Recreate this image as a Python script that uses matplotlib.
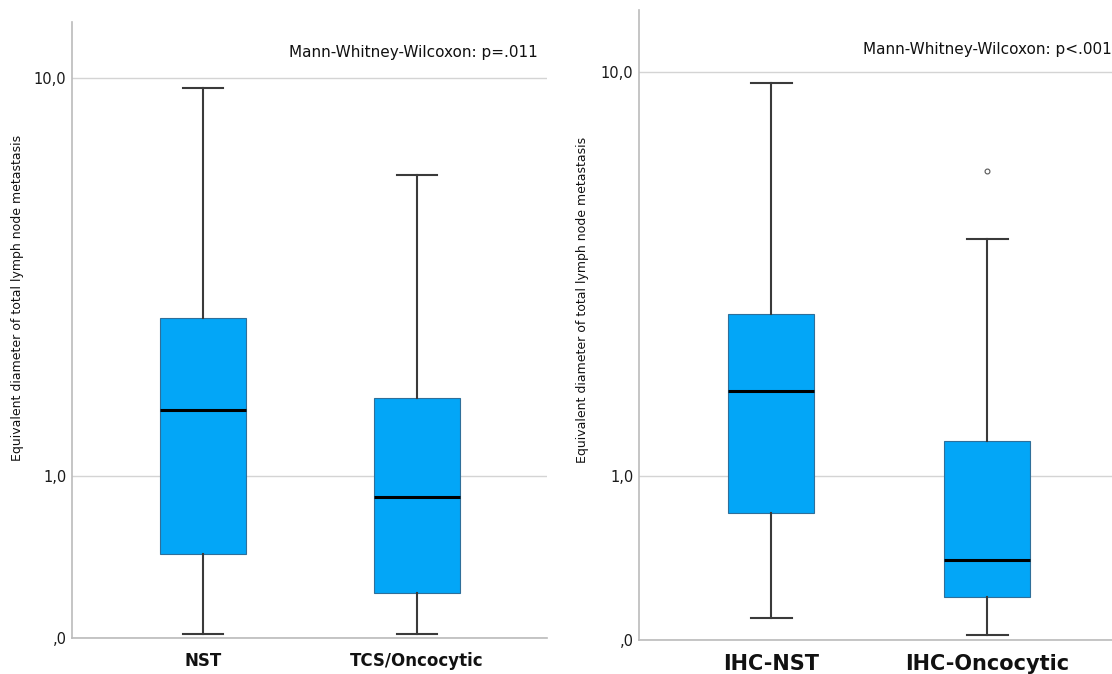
import matplotlib
matplotlib.use("Agg")
import matplotlib.pyplot as plt
import numpy as np

# values (SPSS "safe log" axis: log10(1 + x))
left_groups = ["NST", "TCS/Oncocytic"]
left_whislo = [0.017, 0.017]
left_q1 = [0.43, 0.21]
left_med = [1.65, 0.83]
left_q3 = [2.93, 1.79]
left_whishi = [9.53, 6.25]
left_fliers = [[], []]

right_groups = ["IHC-NST", "IHC-Oncocytic"]
right_whislo = [0.097, 0.021]
right_q1 = [0.71, 0.20]
right_med = [1.86, 0.40]
right_q3 = [2.96, 1.32]
right_whishi = [9.49, 4.43]
right_fliers = [[], [6.24]]

yticks = [0, 1, 10]
yticklabels = [",0", "1,0", "10,0"]
p_left = "Mann-Whitney-Wilcoxon: p=.011"
p_right = "Mann-Whitney-Wilcoxon: p<.001"
ylabel = "Equivalent diameter of total lymph node metastasis"

BOX = "#03a6f7"
EDGE = "#3a3a3a"


def fwd(y):
    y = np.asarray(y, dtype=float)
    return np.sign(y) * np.log10(1 + np.abs(y))


def inv(y):
    y = np.asarray(y, dtype=float)
    return np.sign(y) * (10 ** np.abs(y) - 1)


def panel(ax, groups, lo, q1, med, q3, hi, fliers, label_size, note, note_y,
          top, label_xy):
    stats = []
    for i in range(len(groups)):
        stats.append(dict(whislo=lo[i], q1=q1[i], med=med[i], q3=q3[i],
                          whishi=hi[i], fliers=fliers[i], label=groups[i]))
    ax.set_yscale("function", functions=(fwd, inv))
    ax.bxp(stats, positions=[1, 2], widths=0.4, patch_artist=True,
           boxprops=dict(facecolor=BOX, edgecolor="#2f6f9a", linewidth=0.8),
           medianprops=dict(color="black", linewidth=2.2),
           whiskerprops=dict(color=EDGE, linewidth=1.5),
           capprops=dict(color=EDGE, linewidth=1.5),
           capwidths=0.19,
           flierprops=dict(marker="o", markersize=3.5, markerfacecolor="white",
                           markeredgecolor="#555555", markeredgewidth=0.8))
    ax.set_ylim(0, top)
    ax.set_yticks(yticks)
    ax.set_yticklabels(yticklabels, fontsize=10.5, color="#1a1a1a")
    ax.yaxis.grid(True, color="#d4d4d4", linewidth=1.0)
    ax.set_axisbelow(True)
    ax.tick_params(axis="both", length=0, pad=4)
    ax.set_xticks([1, 2])
    ax.set_xticklabels(groups, fontsize=label_size, fontweight="bold",
                       color="#111111")
    ax.tick_params(axis="x", pad=10)
    for s in ["top", "right"]:
        ax.spines[s].set_visible(False)
    for s in ["left", "bottom"]:
        ax.spines[s].set_color("#bbbbbb")
        ax.spines[s].set_linewidth(1.2)
    ax.set_ylabel(ylabel, fontsize=9, color="#111111")
    ax.yaxis.set_label_coords(*label_xy)
    ax.text(0.98, note_y, note, transform=ax.transAxes, ha="right",
            va="center", fontsize=11, color="#111111")


W, H = 1112, 674
fig = plt.figure(figsize=(W / 100, H / 100), dpi=100)

ax1 = fig.add_axes([72 / W, 1 - 638 / H, 475 / W, 616 / H])
panel(ax1, left_groups, left_whislo, left_q1, left_med, left_q3, left_whishi,
      left_fliers, 12, p_left, 0.95, 12.96, (-0.101, 0.552))
ax1.set_xlim(0.387, 2.609)

ax2 = fig.add_axes([639 / W, 1 - 640 / H, 480 / W, 630 / H])
panel(ax2, right_groups, right_whislo, right_q1, right_med, right_q3,
      right_whishi, right_fliers, 15, p_right, 0.937, 13.28, (-0.104, 0.54))
ax2.set_xlim(0.389, 2.61)
ax2.texts[0].set_x(0.985)

fig.savefig("out.png", dpi=100)
